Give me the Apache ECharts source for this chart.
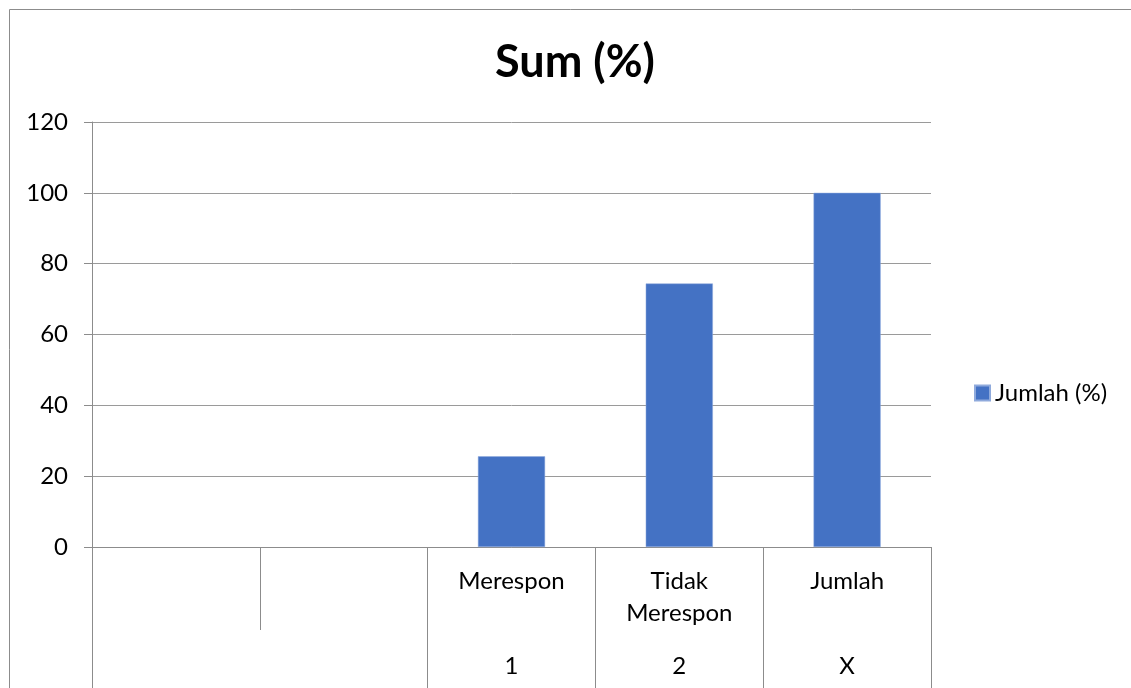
<!DOCTYPE html>
<html>
<head>
<meta charset="utf-8">
<script src="https://cdn.jsdelivr.net/npm/echarts@6/dist/echarts.min.js"></script>
<style>
  html, body { margin: 0; padding: 0; background: #fff; }
  #chart { width: 1131px; height: 688px; }
</style>
</head>
<body>
<div id="chart"></div>
<script>
// Category levels (inner label + outer group label) and the values per category
const innerLabels = ['', '', 'Merespon', 'Tidak\nMerespon', 'Jumlah'];
const outerLabels = ['', '', '1', '2', 'X'];
const seriesName = 'Jumlah (%)';
const values = [null, null, 25.6, 74.4, 100];
const yTicks = { min: 0, max: 120, interval: 20 };

const FONT = 'Lato, "Open Sans", sans-serif';
const GRID = '#9a9a9a';
const AXIS = '#8c8c8c';
const LABEL_SIZE = 24;

const chart = echarts.init(document.getElementById('chart'), null, { renderer: 'canvas' });

chart.setOption({
  backgroundColor: '#ffffff',
  animation: false,
  textStyle: { fontFamily: FONT, color: '#000' },
  title: {
    text: 'Sum (%)',
    left: 575,
    top: 40,
    textAlign: 'center',
    padding: 0,
    textStyle: { fontFamily: FONT, fontSize: 45, fontWeight: 'bold', color: '#000' }
  },
  legend: {
    orient: 'vertical',
    left: 974,
    top: 381,
    padding: 0,
    itemWidth: 15,
    itemHeight: 15,
    icon: 'rect',
    textStyle: { fontFamily: FONT, fontSize: LABEL_SIZE, color: '#000' },
    data: [seriesName]
  },
  graphic: [{
    type: 'rect',
    shape: { x: 9.5, y: 9.5, width: 1200, height: 800 },
    style: { fill: null, stroke: '#8c8c8c', lineWidth: 1 },
    silent: true
  }],
  grid: { left: 92, right: 200, top: 122, bottom: 141, containLabel: false },
  xAxis: [
    {
      type: 'category',
      data: innerLabels,
      position: 'bottom',
      boundaryGap: true,
      axisLine: { show: true, lineStyle: { color: AXIS, width: 1 } },
      axisTick: { show: true, interval: 0, length: 83, lineStyle: { color: AXIS } },
      axisLabel: {
        interval: 0, margin: 18, fontFamily: FONT, fontSize: LABEL_SIZE,
        lineHeight: 32, color: '#000', align: 'center'
      },
      splitLine: { show: false }
    },
    {
      type: 'category',
      data: outerLabels,
      position: 'bottom',
      boundaryGap: true,
      axisLine: { show: false },
      axisTick: {
        show: true,
        length: 141,
        lineStyle: { color: AXIS },
        // the first two categories share one outer group, so no divider between them
        interval: function (index) { return index !== 1; }
      },
      axisLabel: {
        interval: 0, margin: 103, fontFamily: FONT, fontSize: LABEL_SIZE,
        lineHeight: 32, color: '#000'
      },
      splitLine: { show: false }
    }
  ],
  yAxis: {
    type: 'value',
    min: yTicks.min,
    max: yTicks.max,
    interval: yTicks.interval,
    axisLine: { show: true, lineStyle: { color: AXIS } },
    axisTick: { show: true, length: 8, lineStyle: { color: AXIS } },
    axisLabel: { margin: 24, fontFamily: FONT, fontSize: LABEL_SIZE, color: '#000' },
    splitLine: { show: true, lineStyle: { color: GRID, width: 1 } }
  },
  series: [{
    name: seriesName,
    type: 'bar',
    xAxisIndex: 0,
    data: values,
    barWidth: '40%',
    itemStyle: { color: '#4472C4', borderColor: '#8faadc', borderWidth: 0.5 }
  }]
});
</script>
</body>
</html>
